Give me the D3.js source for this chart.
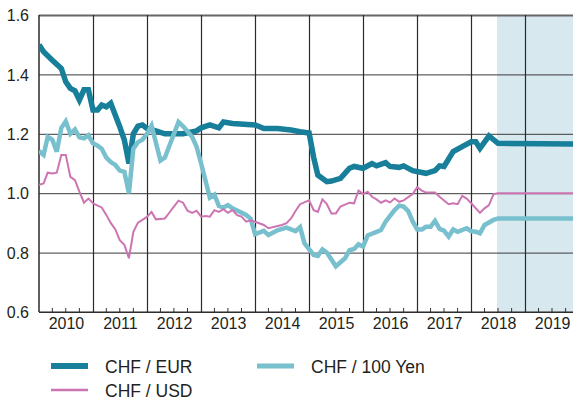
<!DOCTYPE html>
<html>
<head>
<meta charset="utf-8">
<script src="https://cdn.jsdelivr.net/npm/d3@7"></script>
<style>
    body { margin: 0; background: #fff; }
    svg { display: block; font-family: "Liberation Sans", Arial, sans-serif; }
    .axis path { display: none; }
    .axis text { fill: #231f20; font-size: 16px; }
    .legend text { fill: #231f20; font-size: 17.5px; }
</style>
</head>
<body>
<svg id="chart"></svg>
<script>
// monthly averages, CHF per unit of foreign currency
const chfEur = [
    ['2010-01', 1.50], ['2010-02', 1.476], ['2010-04', 1.448], ['2010-06', 1.42], ['2010-07', 1.375],
    ['2010-08', 1.353], ['2010-09', 1.345], ['2010-10', 1.314], ['2010-11', 1.348], ['2010-12', 1.348],
    ['2011-01', 1.28], ['2011-02', 1.28], ['2011-03', 1.297], ['2011-04', 1.291], ['2011-05', 1.303],
    ['2011-07', 1.224], ['2011-08', 1.179], ['2011-09', 1.10], ['2011-10', 1.20], ['2011-11', 1.226],
    ['2011-12', 1.23], ['2012-01', 1.218], ['2012-03', 1.21], ['2012-05', 1.20], ['2012-09', 1.20],
    ['2012-12', 1.21], ['2013-01', 1.22], ['2013-03', 1.23], ['2013-05', 1.22], ['2013-06', 1.24],
    ['2013-08', 1.235], ['2014-01', 1.23], ['2014-02', 1.224], ['2014-03', 1.218], ['2014-06', 1.218],
    ['2014-09', 1.213], ['2014-11', 1.207], ['2015-01', 1.203], ['2015-02', 1.12], ['2015-03', 1.061],
    ['2015-05', 1.039], ['2015-06', 1.041], ['2015-08', 1.05], ['2015-10', 1.084], ['2015-11', 1.09],
    ['2016-01', 1.084], ['2016-03', 1.10], ['2016-04', 1.092], ['2016-06', 1.103], ['2016-07', 1.09],
    ['2016-09', 1.087], ['2016-10', 1.092], ['2016-12', 1.076], ['2017-03', 1.067], ['2017-05', 1.076],
    ['2017-06', 1.092], ['2017-07', 1.09], ['2017-09', 1.14], ['2017-11', 1.157], ['2018-01', 1.173],
    ['2018-02', 1.173], ['2018-03', 1.151], ['2018-05', 1.193], ['2018-07', 1.168], ['2019-12', 1.166]
];

const chfUsd = [
    ['2010-01', 1.028], ['2010-02', 1.033], ['2010-03', 1.069], ['2010-04', 1.066], ['2010-05', 1.069],
    ['2010-06', 1.129], ['2010-07', 1.129], ['2010-08', 1.055], ['2010-09', 1.044], ['2010-10', 1.005],
    ['2010-11', 0.968], ['2010-12', 0.982], ['2011-01', 0.966], ['2011-02', 0.958], ['2011-03', 0.952],
    ['2011-04', 0.927], ['2011-05', 0.90], ['2011-06', 0.878], ['2011-07', 0.842], ['2011-08', 0.826],
    ['2011-09', 0.781], ['2011-10', 0.87], ['2011-11', 0.901], ['2011-12', 0.91], ['2012-01', 0.92],
    ['2012-02', 0.937], ['2012-03', 0.912], ['2012-05', 0.915], ['2012-06', 0.935], ['2012-07', 0.955],
    ['2012-08', 0.975], ['2012-09', 0.968], ['2012-10', 0.941], ['2012-11', 0.934], ['2012-12', 0.941],
    ['2013-01', 0.921], ['2013-02', 0.923], ['2013-03', 0.921], ['2013-04', 0.943], ['2013-05', 0.937],
    ['2013-06', 0.946], ['2013-07', 0.934], ['2013-08', 0.943], ['2013-09', 0.926], ['2013-10', 0.921],
    ['2013-11', 0.904], ['2013-12', 0.909], ['2014-01', 0.904], ['2014-03', 0.893], ['2014-04', 0.882],
    ['2014-07', 0.893], ['2014-08', 0.899], ['2014-09', 0.915], ['2014-10', 0.94], ['2014-11', 0.963],
    ['2015-01', 0.976], ['2015-02', 0.943], ['2015-03', 0.937], ['2015-04', 0.979], ['2015-05', 0.963],
    ['2015-06', 0.932], ['2015-07', 0.932], ['2015-08', 0.955], ['2015-10', 0.968], ['2015-11', 0.966],
    ['2015-12', 1.009], ['2016-01', 0.997], ['2016-02', 1.005], ['2016-03', 0.988], ['2016-04', 0.979],
    ['2016-05', 0.968], ['2016-06', 0.976], ['2016-07', 0.969], ['2016-08', 0.982], ['2016-09', 0.971],
    ['2016-10', 0.976], ['2016-12', 0.997], ['2017-01', 1.02], ['2017-02', 1.009], ['2017-03', 1.002],
    ['2017-05', 1.002], ['2017-06', 0.988], ['2017-08', 0.963], ['2017-09', 0.966], ['2017-10', 0.963],
    ['2017-11', 0.991], ['2017-12', 0.982], ['2018-01', 0.966], ['2018-03', 0.934], ['2018-04', 0.949],
    ['2018-05', 0.96], ['2018-06', 0.997], ['2018-07', 1.0], ['2019-12', 1.0]
];

const chfYen = [
    ['2010-01', 1.142], ['2010-02', 1.129], ['2010-03', 1.19], ['2010-04', 1.18], ['2010-05', 1.14],
    ['2010-06', 1.22], ['2010-07', 1.242], ['2010-08', 1.20], ['2010-09', 1.215], ['2010-10', 1.188],
    ['2010-11', 1.185], ['2010-12', 1.195], ['2011-01', 1.168], ['2011-02', 1.16], ['2011-03', 1.15],
    ['2011-04', 1.12], ['2011-05', 1.105], ['2011-06', 1.095], ['2011-07', 1.076], ['2011-08', 1.072],
    ['2011-09', 1.0], ['2011-10', 1.15], ['2011-11', 1.172], ['2011-12', 1.18], ['2012-01', 1.20],
    ['2012-02', 1.228], ['2012-04', 1.11], ['2012-05', 1.12], ['2012-08', 1.24], ['2012-09', 1.225],
    ['2012-11', 1.19], ['2012-12', 1.157], ['2013-01', 1.10], ['2013-03', 0.985], ['2013-04', 0.995],
    ['2013-05', 0.957], ['2013-06', 0.952], ['2013-07', 0.96], ['2013-08', 0.949], ['2013-11', 0.927],
    ['2013-12', 0.915], ['2014-01', 0.862], ['2014-03', 0.873], ['2014-04', 0.859], ['2014-06', 0.875],
    ['2014-08', 0.884], ['2014-10', 0.872], ['2014-11', 0.886], ['2014-12', 0.831], ['2015-02', 0.792],
    ['2015-03', 0.789], ['2015-04', 0.811], ['2015-05', 0.80], ['2015-07', 0.754], ['2015-09', 0.781],
    ['2015-10', 0.808], ['2015-11', 0.812], ['2015-12', 0.828], ['2016-01', 0.82], ['2016-02', 0.858],
    ['2016-04', 0.87], ['2016-05', 0.876], ['2016-06', 0.904], ['2016-08', 0.943], ['2016-09', 0.958],
    ['2016-10', 0.955], ['2016-11', 0.94], ['2016-12', 0.905], ['2017-01', 0.878], ['2017-02', 0.878],
    ['2017-03', 0.887], ['2017-04', 0.887], ['2017-05', 0.907], ['2017-06', 0.88], ['2017-07', 0.874],
    ['2017-08', 0.854], ['2017-09', 0.878], ['2017-10', 0.87], ['2017-12', 0.882], ['2018-01', 0.872],
    ['2018-02', 0.87], ['2018-03', 0.865], ['2018-04', 0.893], ['2018-06', 0.91], ['2018-07', 0.915],
    ['2019-12', 0.915]
];

const yearLabels = [2010, 2011, 2012, 2013, 2014, 2015, 2016, 2017, 2018, 2019];
const yTicks = [0.6, 0.8, 1.0, 1.2, 1.4, 1.6];
const forecastStart = '2018-07';
const seriesNames = ['CHF / EUR', 'CHF / USD', 'CHF / 100 Yen'];

const width = 573, height = 401;
const margin = {left: 39, right: 0, top: 15, bottom: 89};
const plot = {
    left: margin.left,
    right: width - margin.right,
    top: margin.top,
    bottom: height - margin.bottom
};

const parseMonth = d3.timeParse('%Y-%m');

const svg = d3.select('#chart')
    .attr('width', width)
    .attr('height', height);

const x = d3.scaleTime()
    .domain([new Date(2010, 0, 1), new Date(2019, 10, 20)])
    .range([plot.left, plot.right]);

const y = d3.scaleLinear()
    .domain([0.6, 1.6])
    .range([plot.bottom, plot.top]);

svg.append('defs')
    .append('clipPath')
    .attr('id', 'plotClip')
    .append('rect')
    .attr('x', plot.left)
    .attr('y', plot.top - 5)
    .attr('width', plot.right - plot.left)
    .attr('height', plot.bottom - plot.top + 5);

// forecast shading
svg.append('rect')
    .attr('x', x(parseMonth(forecastStart)) - 1)
    .attr('y', plot.top)
    .attr('width', plot.right - x(parseMonth(forecastStart)) + 1)
    .attr('height', plot.bottom - plot.top)
    .attr('fill', '#d8e8ef');

// horizontal grid + y labels
const yAxis = d3.axisLeft(y)
    .tickValues(yTicks)
    .tickFormat(d3.format('.1f'))
    .tickSize(-(plot.right - plot.left))
    .tickPadding(10);

const elYAxis = svg.append('g')
    .attr('class', 'axis axis--y')
    .attr('transform', `translate(${plot.left},0)`)
    .call(yAxis);

elYAxis.selectAll('line')
    .attr('stroke', d => d === 1.6 ? '#666' : '#3a3a3a')
    .attr('stroke-width', d => d === 1.6 ? 2 : 1);
elYAxis.selectAll('text').attr('dy', '0.36em');

// year boundaries
const yearStarts = yearLabels.slice(1).map(yr => new Date(yr, 0, 1));
svg.append('g')
    .selectAll('line')
    .data(yearStarts)
    .join('line')
    .attr('x1', d => Math.round(x(d)) + 0.5)
    .attr('x2', d => Math.round(x(d)) + 0.5)
    .attr('y1', plot.top)
    .attr('y2', plot.bottom)
    .attr('stroke', '#2b2b2b')
    .attr('stroke-width', 1.2);

// quarterly minor ticks
const quarters = d3.timeMonth.every(3).range(new Date(2010, 0, 1), x.domain()[1])
    .filter(d => d.getMonth() !== 0);
svg.append('g')
    .selectAll('line')
    .data(quarters)
    .join('line')
    .attr('x1', d => x(d))
    .attr('x2', d => x(d))
    .attr('y1', plot.bottom)
    .attr('y2', plot.bottom - 4)
    .attr('stroke', '#333')
    .attr('stroke-width', 1);

// left axis and baseline
svg.append('line')
    .attr('x1', plot.left).attr('x2', plot.left)
    .attr('y1', plot.top).attr('y2', plot.bottom)
    .attr('stroke', '#2b2b2b').attr('stroke-width', 1.5);
svg.append('line')
    .attr('x1', plot.left).attr('x2', plot.right)
    .attr('y1', plot.bottom).attr('y2', plot.bottom)
    .attr('stroke', '#222').attr('stroke-width', 1.2);

// year labels centred in each year
const xAxis = d3.axisBottom(x)
    .tickValues(yearLabels.map(yr => new Date(yr, 6, 2)))
    .tickFormat(d3.timeFormat('%Y'))
    .tickSize(0)
    .tickPadding(6);

svg.append('g')
    .attr('class', 'axis axis--x')
    .attr('transform', `translate(0,${plot.bottom})`)
    .call(xAxis);

// series
const line = d3.line()
    .x(d => x(parseMonth(d[0])))
    .y(d => y(d[1]))
    .curve(d3.curveLinear);

const series = [
    {name: seriesNames[0], data: chfEur, color: '#187f9a', width: 5.5},
    {name: seriesNames[2], data: chfYen, color: '#79c0cf', width: 4.5},
    {name: seriesNames[1], data: chfUsd, color: '#cd74b3', width: 2}
];

const elLines = svg.append('g')
    .attr('clip-path', 'url(#plotClip)');

elLines.selectAll('path.series')
    .data(series)
    .join('path')
    .classed('series', true)
    .attr('d', s => line(s.data))
    .attr('fill', 'none')
    .attr('stroke', s => s.color)
    .attr('stroke-width', s => s.width)
    .attr('stroke-linejoin', 'miter')
    .attr('stroke-miterlimit', 3);

// legend
const legendItems = [
    {name: seriesNames[0], color: '#187f9a', width: 6, lx: 51, ly: 366},
    {name: seriesNames[1], color: '#cd74b3', width: 2.5, lx: 51, ly: 390},
    {name: seriesNames[2], color: '#79c0cf', width: 5, lx: 257, ly: 366}
];

const elLegend = svg.append('g').attr('class', 'legend');
const legendRows = elLegend.selectAll('g')
    .data(legendItems)
    .join('g')
    .attr('transform', d => `translate(${d.lx},${d.ly})`);

legendRows.append('line')
    .attr('x1', 0).attr('x2', 37)
    .attr('y1', 0).attr('y2', 0)
    .attr('stroke', d => d.color)
    .attr('stroke-width', d => d.width);

legendRows.append('text')
    .attr('x', 54)
    .attr('y', 6.5)
    .text(d => d.name);
</script>
</body>
</html>
